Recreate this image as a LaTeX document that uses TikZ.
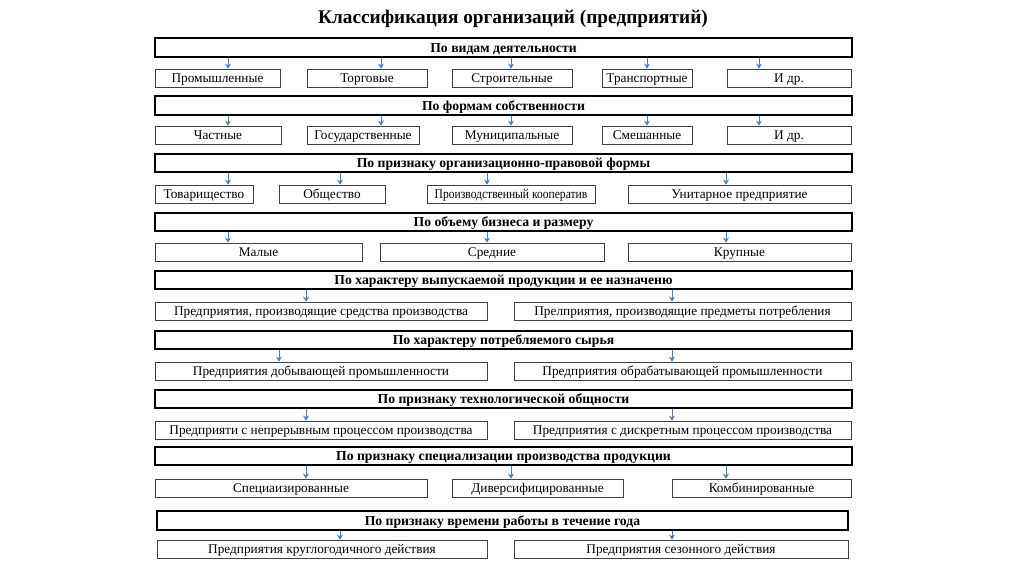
\documentclass[tikz,border=0pt]{standalone}
\usepackage{fontspec}
\usepackage{graphicx}
\setmainfont{Liberation Serif}
\usetikzlibrary{arrows.meta}
\definecolor{arrowblue}{HTML}{4A7EBB}
\tikzset{
  hdr/.style={draw=black, line width=1.8pt, inner sep=0pt, text height=9pt, text depth=0pt, font=\fontsize{13.7}{15}\selectfont\bfseries, text=black},
  cbox/.style={draw=black!75, line width=0.8pt, inner sep=0pt, text height=8.6pt, text depth=0pt, font=\fontsize{13.3}{15}\selectfont, text=black},
  arr/.style={draw=arrowblue, line width=0.9pt, -{Stealth[length=5pt,width=6pt]}},
  ttl/.style={font=\fontsize{19.3}{23}\selectfont\bfseries}
}
\newcommand\mkbox[7]{\node[#1, minimum width={#4-#3}, minimum height={#6-#5}] (#2) at ({(#3+#4)/2},{(#5+#6)/2}) {#7};}
\begin{document}
\begin{tikzpicture}[x=1pt,y=-1pt]
\useasboundingbox (0,0) rectangle (1024,574);
\fill[white] (0,0) rectangle (1024,574);
\node[ttl] (title) at (513,19) {Классификация организаций (предприятий)};

% Row 1
\mkbox{hdr}{h1}{155}{852}{38}{57}{По видам деятельности}
\mkbox{cbox}{c11}{155}{280}{69}{87}{Промышленные}
\mkbox{cbox}{c12}{307}{427}{69}{87}{Торговые}
\mkbox{cbox}{c13}{452}{572}{69}{87}{Строительные}
\mkbox{cbox}{c14}{602}{692}{69}{87}{Транспортные}
\mkbox{cbox}{c15}{727}{851}{69}{87}{И др.}
\draw[arr] (h1.south -| 228,0) -- (c11.north -| 228,0);
\draw[arr] (h1.south -| 381,0) -- (c12.north -| 381,0);
\draw[arr] (h1.south -| 511,0) -- (c13.north -| 511,0);
\draw[arr] (h1.south -| 647,0) -- (c14.north -| 647,0);
\draw[arr] (h1.south -| 759,0) -- (c15.north -| 759,0);

% Row 2
\mkbox{hdr}{h2}{155}{852}{96}{115}{По формам собственности}
\mkbox{cbox}{c21}{155}{281}{126}{144}{Частные}
\mkbox{cbox}{c22}{307}{419}{126}{144}{Государственные}
\mkbox{cbox}{c23}{452}{572}{126}{144}{Муниципальные}
\mkbox{cbox}{c24}{602}{692}{126}{144}{Смешанные}
\mkbox{cbox}{c25}{727}{851}{126}{144}{И др.}
\draw[arr] (h2.south -| 228,0) -- (c21.north -| 228,0);
\draw[arr] (h2.south -| 381,0) -- (c22.north -| 381,0);
\draw[arr] (h2.south -| 511,0) -- (c23.north -| 511,0);
\draw[arr] (h2.south -| 647,0) -- (c24.north -| 647,0);
\draw[arr] (h2.south -| 759,0) -- (c25.north -| 759,0);

% Row 3
\mkbox{hdr}{h3}{155}{852}{154}{172}{По признаку организационно-правовой формы}
\mkbox{cbox}{c31}{155}{253}{185}{203}{Товарищество}
\mkbox{cbox}{c32}{279}{385}{185}{203}{Общество}
\mkbox{cbox}{c33}{427}{595}{185}{203}{\scalebox{0.87}[1]{Производственный кооператив}}
\mkbox{cbox}{c34}{628}{851}{185}{203}{Унитарное предприятие}
\draw[arr] (h3.south -| 228,0) -- (c31.north -| 228,0);
\draw[arr] (h3.south -| 340,0) -- (c32.north -| 340,0);
\draw[arr] (h3.south -| 487,0) -- (c33.north -| 487,0);
\draw[arr] (h3.south -| 726,0) -- (c34.north -| 726,0);

% Row 4
\mkbox{hdr}{h4}{155}{852}{213}{231}{По объему бизнеса и размеру}
\mkbox{cbox}{c41}{155}{362}{243}{261}{Малые}
\mkbox{cbox}{c42}{380}{604}{243}{261}{Средние}
\mkbox{cbox}{c43}{628}{851}{243}{261}{Крупные}
\draw[arr] (h4.south -| 228,0) -- (c41.north -| 228,0);
\draw[arr] (h4.south -| 487,0) -- (c42.north -| 487,0);
\draw[arr] (h4.south -| 726,0) -- (c43.north -| 726,0);

% Row 5
\mkbox{hdr}{h5}{155}{852}{271}{289}{По характеру выпускаемой продукции и ее назначеню}
\mkbox{cbox}{c51}{155}{487}{302}{320}{Предприятия, производящие средства производства}
\mkbox{cbox}{c52}{514}{851}{302}{320}{Прелприятия, производящие предметы потребления}
\draw[arr] (h5.south -| 306,0) -- (c51.north -| 306,0);
\draw[arr] (h5.south -| 672,0) -- (c52.north -| 672,0);

% Row 6
\mkbox{hdr}{h6}{155}{852}{331}{349}{По характеру потребляемого сырья}
\mkbox{cbox}{c61}{155}{487}{362}{380}{Предприятия добывающей промышленности}
\mkbox{cbox}{c62}{514}{851}{362}{380}{Предприятия обрабатывающей промышленности}
\draw[arr] (h6.south -| 279,0) -- (c61.north -| 279,0);
\draw[arr] (h6.south -| 672,0) -- (c62.north -| 672,0);

% Row 7
\mkbox{hdr}{h7}{155}{852}{390}{408}{По признаку технологической общности}
\mkbox{cbox}{c71}{155}{487}{421}{439}{Предприяти с непрерывным процессом производства}
\mkbox{cbox}{c72}{514}{851}{421}{439}{Предприятия с дискретным процессом производства}
\draw[arr] (h7.south -| 306,0) -- (c71.north -| 306,0);
\draw[arr] (h7.south -| 672,0) -- (c72.north -| 672,0);

% Row 8
\mkbox{hdr}{h8}{155}{852}{447}{465}{По признаку специализации производства продукции}
\mkbox{cbox}{c81}{155}{427}{479}{497}{Специаизированные}
\mkbox{cbox}{c82}{452}{623}{479}{497}{Диверсифицированные}
\mkbox{cbox}{c83}{672}{851}{479}{497}{Комбинированные}
\draw[arr] (h8.south -| 306,0) -- (c81.north -| 306,0);
\draw[arr] (h8.south -| 511,0) -- (c82.north -| 511,0);
\draw[arr] (h8.south -| 726,0) -- (c83.north -| 726,0);

% Row 9
\mkbox{hdr}{h9}{157}{848}{511}{530}{По признаку времени работы в течение года}
\mkbox{cbox}{c91}{157}{487}{540}{558}{Предприятия круглогодичного действия}
\mkbox{cbox}{c92}{514}{848}{540}{558}{Предприятия сезонного действия}
\draw[arr] (h9.south -| 340,0) -- (c91.north -| 340,0);
\draw[arr] (h9.south -| 672,0) -- (c92.north -| 672,0);
\end{tikzpicture}
\end{document}
